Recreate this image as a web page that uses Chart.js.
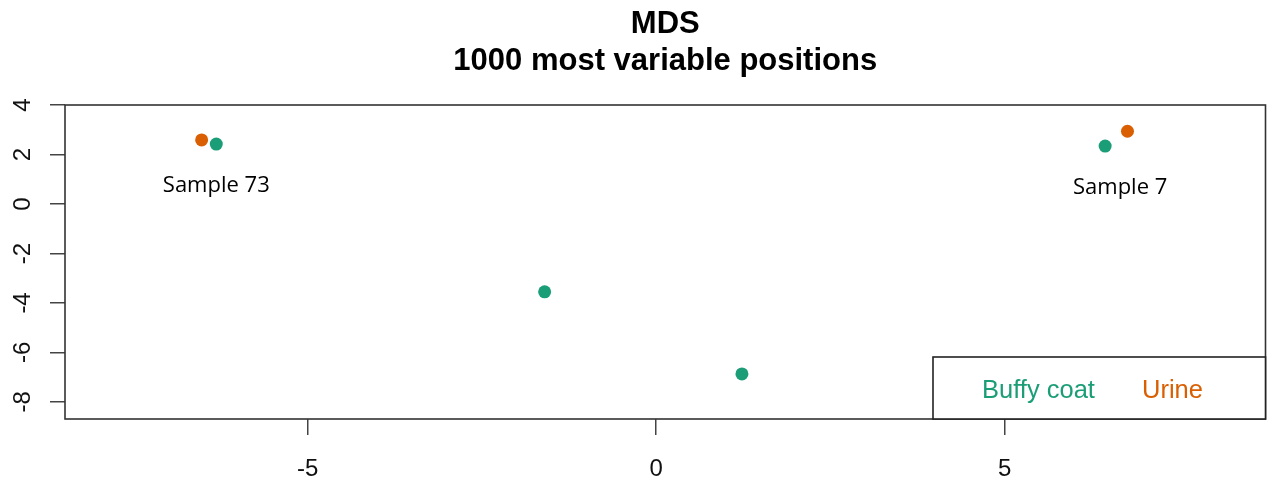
<!DOCTYPE html>
<html>
<head>
<meta charset="utf-8">
<script src="https://cdn.jsdelivr.net/npm/chart.js@4"></script>
<style>
  body { margin: 0; background: #fff; }
  #wrap { width: 1272px; height: 480px; }
</style>
</head>
<body>
<div id="wrap"><canvas id="myChart" width="1272" height="480"></canvas></div>
<script>
// MDS coordinates
const buffyX = [-6.31, -1.60, 1.23, 6.44];
const buffyY = [2.42, -3.55, -6.87, 2.34];
const urineX = [-6.52, 6.76];
const urineY = [2.59, 2.94];

const xTicks = [-5, 0, 5];
const yTicks = [-8, -6, -4, -2, 0, 2, 4];

const seriesNames = ['Buffy coat', 'Urine'];
const seriesColors = ['#1B9E77', '#D95F02'];

// sample labels, hung under a buffy coat point
const sampleLabels = ['Sample 73', 'Sample 7'];
const sampleAnchor = [0, 3];

const titleLines = ['MDS', '1000 most variable positions'];

const toPoints = (xs, ys) => xs.map((x, i) => ({ x: x, y: ys[i] }));

// box, title, rotated y labels, sample labels and the legend box
const rPlot = {
  id: 'rPlot',
  afterDraw(chart) {
    const ctx = chart.ctx;
    const a = chart.chartArea;
    const ys = chart.scales.y;
    ctx.save();

    ctx.strokeStyle = '#333';
    ctx.lineWidth = 1.6;
    ctx.strokeRect(a.left, a.top, a.right - a.left, a.bottom - a.top);

    // title
    ctx.fillStyle = '#000';
    ctx.textAlign = 'center';
    ctx.textBaseline = 'alphabetic';
    ctx.font = 'bold 31px "Liberation Sans", Arial, sans-serif';
    const cx = (a.left + a.right) / 2;
    ctx.fillText(titleLines[0], cx, 33);
    ctx.fillText(titleLines[1], cx, 70);

    // y tick labels, turned like R does
    ctx.font = '24px "Liberation Sans", Arial, sans-serif';
    ctx.fillStyle = '#111';
    ys.ticks.forEach((t) => {
      const py = ys.getPixelForValue(t.value);
      ctx.save();
      ctx.translate(30, py);
      ctx.rotate(-Math.PI / 2);
      ctx.textAlign = 'center';
      ctx.fillText(String(t.value), 0, 0);
      ctx.restore();
    });

    // sample labels
    ctx.font = '22px "Open Sans", "Noto Sans", sans-serif';
    ctx.fillStyle = '#000';
    ctx.textAlign = 'center';
    const pts = chart.getDatasetMeta(0).data;
    const dx = [0, 15];
    sampleLabels.forEach((txt, i) => {
      const p = pts[sampleAnchor[i]];
      ctx.fillText(txt, p.x + dx[i], p.y + 48);
    });

    // legend box in the bottom right corner
    const lx = 933, ly = 357;
    ctx.fillStyle = '#fff';
    ctx.fillRect(lx, ly, a.right - lx, a.bottom - ly);
    ctx.strokeStyle = '#222';
    ctx.lineWidth = 1.6;
    ctx.strokeRect(lx, ly, a.right - lx, a.bottom - ly);
    ctx.font = '25.5px "Liberation Sans", Arial, sans-serif';
    ctx.textAlign = 'left';
    ctx.fillStyle = seriesColors[0];
    ctx.fillText(seriesNames[0], 982, 398);
    ctx.fillStyle = seriesColors[1];
    ctx.fillText(seriesNames[1], 1142, 398);

    ctx.restore();
  }
};

const ctx = document.getElementById('myChart');

new Chart(ctx, {
  type: 'scatter',
  data: {
    datasets: [{
      label: seriesNames[0],
      data: toPoints(buffyX, buffyY),
      backgroundColor: seriesColors[0],
      borderWidth: 0,
      pointRadius: 6.5
    }, {
      label: seriesNames[1],
      data: toPoints(urineX, urineY),
      backgroundColor: seriesColors[1],
      borderWidth: 0,
      pointRadius: 6.5
    }]
  },
  options: {
    responsive: false,
    animation: false,
    layout: { padding: { top: 105, right: 5, left: 0, bottom: 0 } },
    plugins: {
      legend: { display: false },
      title: { display: false },
      tooltip: { enabled: false }
    },
    scales: {
      x: {
        type: 'linear',
        min: -8.48,
        max: 8.74,
        afterBuildTicks: (s) => { s.ticks = xTicks.map((v) => ({ value: v })); },
        afterFit: (s) => { s.height = 61; },
        border: { display: false },
        grid: { drawOnChartArea: false, drawTicks: true, tickLength: 16, color: '#444', lineWidth: 1.5 },
        ticks: {
          color: '#111',
          padding: 20,
          maxRotation: 0,
          font: { family: '"Liberation Sans", Arial, sans-serif', size: 24 }
        }
      },
      y: {
        type: 'linear',
        min: -8.69,
        max: 4.0,
        afterBuildTicks: (s) => { s.ticks = yTicks.map((v) => ({ value: v })); },
        afterFit: (s) => { s.width = 65; },
        border: { display: false },
        grid: { drawOnChartArea: false, drawTicks: true, tickLength: 15, color: '#444', lineWidth: 1.5 },
        ticks: { color: 'rgba(0,0,0,0)', font: { size: 24 } }
      }
    }
  },
  plugins: [rPlot]
});
</script>
</body>
</html>
